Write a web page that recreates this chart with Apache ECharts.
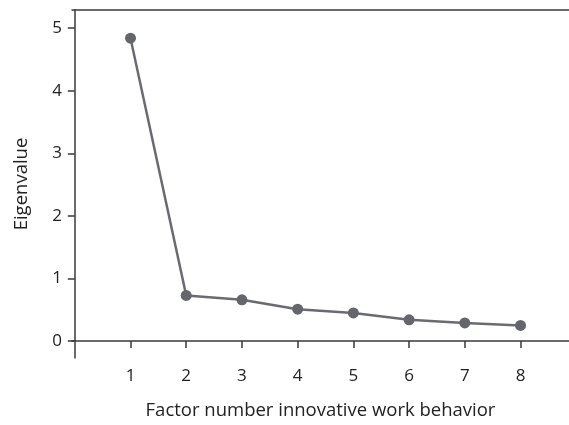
<!DOCTYPE html>
<html><head><meta charset="utf-8">
<script src="https://cdn.jsdelivr.net/npm/echarts@6/dist/echarts.min.js"></script>
<style>html,body{margin:0;padding:0;background:#fff}#c{width:569px;height:425px}</style>
</head><body><div id="c"></div>
<script>
const factors = [1, 2, 3, 4, 5, 6, 7, 8];
const eigenvalues = [4.84, 0.73, 0.66, 0.51, 0.45, 0.34, 0.29, 0.25];
const yTicks = [0, 1, 2, 3, 4, 5];
const xTitle = 'Factor number innovative work behavior';
const yTitle = 'Eigenvalue';

const font = 'Open Sans';
const axisColor = '#3a3a3a';
const chart = echarts.init(document.getElementById('c'));
chart.setOption({
  animation: false,
  grid: { left: 72, right: 0, top: 10, bottom: 62 },
  xAxis: [{
    type: 'value', min: -0.05, max: 8.87,
    splitLine: { show: false },
    axisLine: { show: true, lineStyle: { color: axisColor, width: 1.5 } },
    axisTick: { show: true, customValues: factors, length: 7, lineStyle: { color: axisColor, width: 1.5 } },
    axisLabel: { customValues: factors, color: '#222', fontFamily: font, fontSize: 17, margin: 10 },
    name: xTitle, nameLocation: 'middle', nameGap: 43,
    nameTextStyle: { color: '#222', fontFamily: font, fontSize: 18.5 }
  }, {
    type: 'value', position: 'top', min: -0.05, max: 8.87,
    splitLine: { show: false },
    axisLine: { show: true, lineStyle: { color: axisColor, width: 1.5 } },
    axisTick: { show: false }, axisLabel: { show: false }
  }],
  yAxis: {
    type: 'value', min: -0.27, max: 5.29,
    splitLine: { show: false },
    axisLine: { show: true, lineStyle: { color: axisColor, width: 1.5 } },
    axisTick: { show: true, customValues: yTicks, length: 7, lineStyle: { color: axisColor, width: 1.5 } },
    axisLabel: { customValues: yTicks, color: '#222', fontFamily: font, fontSize: 17, margin: 10 },
    name: yTitle, nameLocation: 'middle', nameGap: 41,
    nameTextStyle: { color: '#222', fontFamily: font, fontSize: 18.5 }
  },
  series: [{
    type: 'line',
    data: factors.map((f, i) => [f, eigenvalues[i]]),
    symbol: 'circle', symbolSize: 11,
    lineStyle: { color: '#6a6b70', width: 2.5 },
    itemStyle: { color: '#64666b' }
  }]
});
</script></body></html>
